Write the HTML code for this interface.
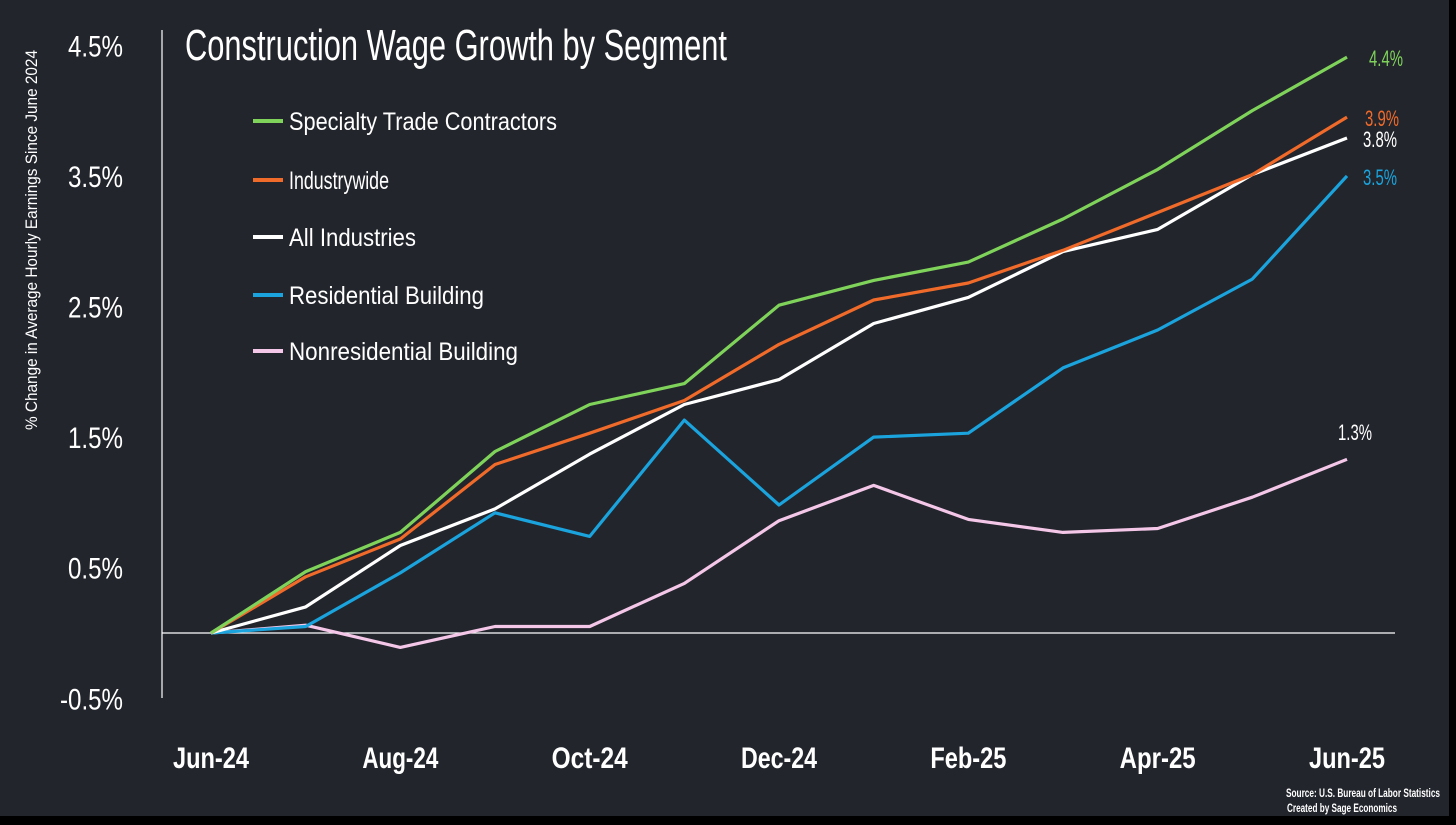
<!DOCTYPE html>
<html><head><meta charset="utf-8"><style>
html,body{margin:0;padding:0;background:#000;}
svg{display:block;}
text{font-family:"Liberation Sans",sans-serif;}
</style></head><body>
<svg id="chart" width="1456" height="825" xmlns="http://www.w3.org/2000/svg">
<rect x="0" y="0" width="1449" height="816" fill="#22252c"/>
<text x="185" y="60" font-size="44" fill="#fff" textLength="542" lengthAdjust="spacingAndGlyphs">Construction Wage Growth by Segment</text>
<text transform="translate(37,240) rotate(-90)" text-anchor="middle" font-size="17" fill="#fff" textLength="380" lengthAdjust="spacingAndGlyphs">% Change in Average Hourly Earnings  Since June 2024</text>
<g id="axes"></g>
<g id="series"></g>
<g id="legend"></g>
<text x="1440" y="797" text-anchor="end" font-size="12" font-weight="bold" fill="#fff" textLength="154" lengthAdjust="spacingAndGlyphs">Source: U.S. Bureau of Labor Statistics</text>
<text x="1397" y="812" text-anchor="end" font-size="12" font-weight="bold" fill="#fff" textLength="110" lengthAdjust="spacingAndGlyphs">Created by Sage Economics</text>
</svg>
<script>
const months = ["Jun-24","Jul-24","Aug-24","Sep-24","Oct-24","Nov-24","Dec-24","Jan-25","Feb-25","Mar-25","Apr-25","May-25","Jun-25"];
const xTickLabels = ["Jun-24","Aug-24","Oct-24","Dec-24","Feb-25","Apr-25","Jun-25"];
const yTicks = [-0.5,0.5,1.5,2.5,3.5,4.5];
const seriesNames = ["Specialty Trade Contractors","Industrywide","All Industries","Residential Building","Nonresidential Building"];
const specialty = [0,0.47,0.77,1.39,1.75,1.91,2.51,2.70,2.84,3.17,3.55,4.0,4.41];
const industrywide = [0,0.43,0.72,1.29,1.53,1.78,2.21,2.55,2.68,2.93,3.22,3.51,3.95];
const allIndustries = [0,0.2,0.67,0.95,1.37,1.75,1.94,2.37,2.57,2.92,3.09,3.51,3.79];
const residential = [0,0.05,0.46,0.92,0.74,1.63,0.98,1.5,1.53,2.03,2.32,2.71,3.5];
const nonresidential = [0,0.06,-0.11,0.05,0.05,0.38,0.86,1.13,0.87,0.77,0.80,1.04,1.33];
const endLabels = ["4.4%","3.9%","3.8%","3.5%","1.3%"];

const NS="http://www.w3.org/2000/svg";
const x = i => 211 + i*(1347-211)/12;
const y = v => 633 - v*130.6;
function mk(tag, attrs, parent){const e=document.createElementNS(NS,tag);for(const k in attrs)e.setAttribute(k,attrs[k]);parent.appendChild(e);return e;}
const axes=document.getElementById('axes'), ser=document.getElementById('series'), leg=document.getElementById('legend');

let a=mk('line',{x1:162,y1:30,x2:162,y2:698,stroke:'#fff','stroke-width':1.2},axes);


let z=mk('line',{x1:162,y1:y(0),x2:1395,y2:y(0),stroke:'#fff','stroke-width':1.2},axes);


yTicks.forEach(v=>{
  const t=mk('text',{x:123,y:y(v)+11,'text-anchor':'end','font-size':30,fill:'#fff',textLength:(v<0?63:55),lengthAdjust:'spacingAndGlyphs'},axes);
  t.textContent=v.toFixed(1)+'%';
  
  
});
xTickLabels.forEach(lbl=>{
  const i=months.indexOf(lbl);
  const t=mk('text',{x:x(i),y:768,'text-anchor':'middle','font-size':30,'font-weight':'bold',fill:'#fff',textLength:76,lengthAdjust:'spacingAndGlyphs'},axes);
  t.textContent=lbl;
  
  
});
const data=[specialty,industrywide,allIndustries,residential,nonresidential];
const colors=["#7fd35a","#f06a2a","#ffffff","#1aa3dc","#f4c6e8"];
const labelColors=["#7fd35a","#f06a2a","#ffffff","#1aa3dc","#ffffff"];
const lblPos=[[1386,62],[1382,112],[1380,150],[1380,187],[1355,440]];
const legY=[121,180,237,295,351];
for(let s=data.length-1;s>=0;s--){
  const pts=data[s].map((v,i)=>x(i).toFixed(1)+','+y(v).toFixed(1)).join(' ');
  const p=mk('polyline',{points:pts,fill:'none',stroke:colors[s],'stroke-width':3.2,'stroke-linejoin':'round'},ser);
  
  
}
data.forEach((d,s)=>{
  const t=mk('text',{x:lblPos[s][0],y:(s===4?lblPos[s][1]:y(d[d.length-1])+9),'text-anchor':'middle','font-size':22,fill:labelColors[s],textLength:34,lengthAdjust:'spacingAndGlyphs'},ser);
  t.textContent=endLabels[s];
  
  
  const l=mk('line',{x1:253,y1:legY[s],x2:283,y2:legY[s],stroke:colors[s],'stroke-width':4},leg);
  
  
  const lt=mk('text',{x:289,y:legY[s]+9,'font-size':25,fill:'#fff',textLength:[268,100,127,195,229][s],lengthAdjust:'spacingAndGlyphs'},leg);
  lt.textContent=seriesNames[s];
  
  
});
</script>
</body></html>
